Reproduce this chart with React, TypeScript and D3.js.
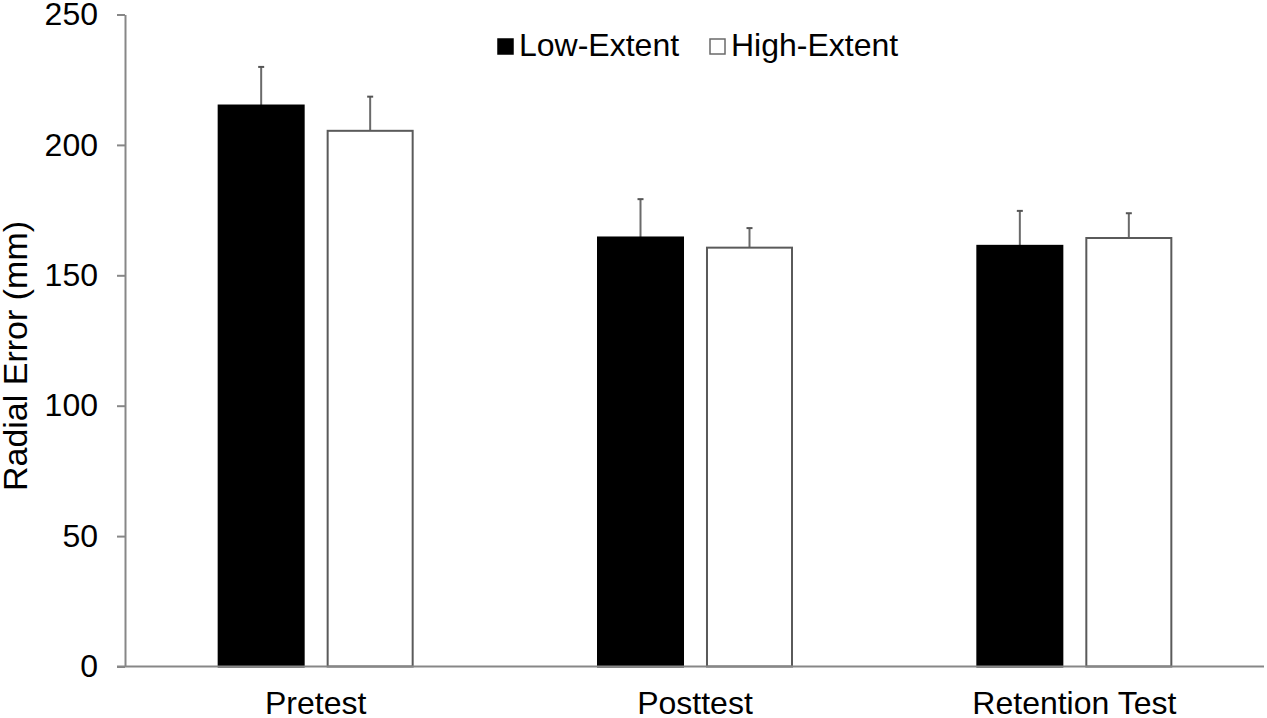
import React, { useEffect, useRef } from 'react'
import * as d3 from 'd3'

const categories = ['Pretest', 'Posttest', 'Retention Test']
const seriesNames = ['Low-Extent', 'High-Extent']
const lowMeans = [215.1, 164.5, 161.3]
const lowErrors = [14.8, 14.7, 13.4]
const highMeans = [205.4, 160.6, 164.3]
const highErrors = [13.1, 7.5, 9.5]
const yTicks = [0, 50, 100, 150, 200, 250]

const width = 1267
const height = 718
const font = '"Liberation Sans", Arial, sans-serif'

const App: React.FC = () => {
  const ref = useRef<SVGSVGElement>(null)

  useEffect(() => {
    if (!ref.current) return
    const svg = d3.select(ref.current)
    svg.selectAll('*').remove()

    const left = 125
    const right = 1264
    const y = d3.scaleLinear().domain([0, 250]).range([666.5, 14.5])
    const x0 = d3.scaleBand<string>().domain(categories).range([126, right]).padding(0)
    const x1 = d3.scaleBand<string>().domain(seriesNames).range([0, 194]).paddingInner(0.22).paddingOuter(0)

    const axisColor = '#878787'

    // y axis
    const yAxis = svg.append('g').attr('transform', `translate(${left},0)`)
      .call(d3.axisLeft(y).tickValues(yTicks).tickSize(8).tickSizeOuter(0).tickPadding(19))
    yAxis.select('.domain').attr('stroke', axisColor).attr('stroke-width', 2)
    yAxis.selectAll('.tick line').attr('stroke', axisColor).attr('stroke-width', 2)
    yAxis.selectAll('.tick text')
      .attr('font-family', font).attr('font-size', 32).attr('fill', '#000')

    // y label
    svg.append('text')
      .attr('transform', `translate(27,356) rotate(-90)`)
      .attr('text-anchor', 'middle')
      .attr('font-family', font).attr('font-size', 34)
      .text('Radial Error (mm)')

    const rows = categories.map((c, i) => [
      { cat: c, s: seriesNames[0], v: lowMeans[i], e: lowErrors[i] },
      { cat: c, s: seriesNames[1], v: highMeans[i], e: highErrors[i] },
    ])

    const groups = svg.append('g').selectAll('g').data(rows).enter().append('g')
      .attr('transform', d => {
        const c = (x0(d[0].cat) as number) + x0.bandwidth() / 2
        return `translate(${c - 97},0)`
      })

    // error bars (upper only)
    groups.selectAll('line.err').data(d => d).enter().append('line')
      .attr('class', 'err')
      .attr('x1', d => (x1(d.s) as number) + x1.bandwidth() / 2)
      .attr('x2', d => (x1(d.s) as number) + x1.bandwidth() / 2)
      .attr('y1', d => y(d.v))
      .attr('y2', d => y(d.v + d.e))
      .attr('stroke', '#6a6a6a').attr('stroke-width', 2)
    groups.selectAll('line.cap').data(d => d).enter().append('line')
      .attr('class', 'cap')
      .attr('x1', d => (x1(d.s) as number) + x1.bandwidth() / 2 - 3)
      .attr('x2', d => (x1(d.s) as number) + x1.bandwidth() / 2 + 3)
      .attr('y1', d => y(d.v + d.e))
      .attr('y2', d => y(d.v + d.e))
      .attr('stroke', '#555').attr('stroke-width', 2)

    groups.selectAll('rect').data(d => d).enter().append('rect')
      .attr('x', d => x1(d.s) as number)
      .attr('y', d => y(d.v))
      .attr('width', x1.bandwidth())
      .attr('height', d => y(0) - y(d.v))
      .attr('fill', d => (d.s === seriesNames[0] ? '#000' : '#fff'))
      .attr('stroke', d => (d.s === seriesNames[0] ? '#000' : '#5a5a5a'))
      .attr('stroke-width', 2)

    // x axis
    svg.append('line')
      .attr('x1', 117).attr('x2', right)
      .attr('y1', y(0)).attr('y2', y(0))
      .attr('stroke', axisColor).attr('stroke-width', 2)
    svg.append('g').selectAll('text').data(categories).enter().append('text')
      .attr('x', d => (x0(d) as number) + x0.bandwidth() / 2)
      .attr('y', 714)
      .attr('text-anchor', 'middle')
      .attr('font-family', font).attr('font-size', 32)
      .text(d => d)

    // legend
    const legend = svg.append('g')
    const items = [
      { name: seriesNames[0], x: 498, fill: '#000', stroke: '#000' },
      { name: seriesNames[1], x: 710, fill: '#fff', stroke: '#6a6a6a' },
    ]
    items.forEach(it => {
      legend.append('rect')
        .attr('x', it.x).attr('y', 39).attr('width', 15).attr('height', 15)
        .attr('fill', it.fill).attr('stroke', it.stroke).attr('stroke-width', 1.5)
      legend.append('text')
        .attr('x', it.x + 21).attr('y', 56)
        .attr('font-family', font).attr('font-size', 32)
        .text(it.name)
    })
  }, [])

  return (
    <svg ref={ref} width={width} height={height}
      style={{ position: 'absolute', left: 0, top: 0, background: '#fff' }} />
  )
}

export default App
